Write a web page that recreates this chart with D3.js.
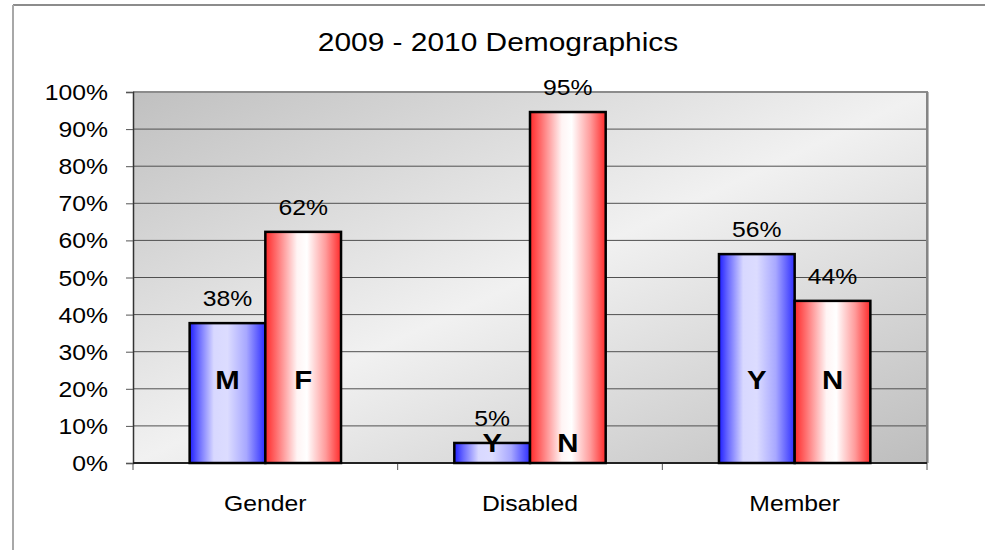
<!DOCTYPE html>
<html>
<head>
<meta charset="utf-8">
<script src="https://cdn.jsdelivr.net/npm/d3@7"></script>
<style>
  html, body { margin: 0; padding: 0; background: #fff; }
  svg { display: block; }
  text { font-family: "Liberation Sans", Arial, sans-serif; fill: #000; }
</style>
</head>
<body>
<svg id="chart" width="985" height="550"></svg>
<script>
// ---- data ----
const title = "2009 - 2010 Demographics";
const categories = ["Gender", "Disabled", "Member"];
const firstLetters = ["M", "Y", "Y"];
const secondLetters = ["F", "N", "N"];
const firstValues = [37.7, 5.4, 56.3];
const secondValues = [62.3, 94.6, 43.7];
const letterLevels = [20, 3, 20];
const yTicks = [0, 10, 20, 30, 40, 50, 60, 70, 80, 90, 100];

// ---- layout ----
const W = 985, H = 550;
const plot = { left: 133, right: 927, top: 92, bottom: 463 };
const SX = 1.15; // horizontal text stretch seen in the reference

const svg = d3.select("#chart");
const defs = svg.append("defs");

const bg = defs.append("linearGradient").attr("id", "bgGrad")
  .attr("x1", 0).attr("y1", 0).attr("x2", 1).attr("y2", 1);
bg.append("stop").attr("offset", 0).attr("stop-color", "#c0c0c0");
bg.append("stop").attr("offset", 0.5).attr("stop-color", "#f1f1f1");
bg.append("stop").attr("offset", 1).attr("stop-color", "#bdbdbd");

const blue = defs.append("linearGradient").attr("id", "blueGrad")
  .attr("x1", 0).attr("y1", 0).attr("x2", 1).attr("y2", 0);
[[0, "#1e1eff"], [0.12, "#6a6aff"], [0.32, "#d8d8ff"], [0.5, "#dcdcff"], [0.75, "#a8a8ff"], [1, "#2e2eff"]]
  .forEach(([o, c]) => blue.append("stop").attr("offset", o).attr("stop-color", c));

const red = defs.append("linearGradient").attr("id", "redGrad")
  .attr("x1", 0).attr("y1", 0).attr("x2", 1).attr("y2", 0);
[[0, "#ff2a2a"], [0.15, "#ff7070"], [0.42, "#fff4f4"], [0.55, "#ffffff"], [0.8, "#ff9a9a"], [1, "#ff2a2a"]]
  .forEach(([o, c]) => red.append("stop").attr("offset", o).attr("stop-color", c));

// outer chart border (top & left visible)
svg.append("line").attr("x1", 13).attr("x2", W).attr("y1", 5).attr("y2", 5)
  .attr("stroke", "#666").attr("stroke-width", 1.5);
svg.append("line").attr("x1", 13).attr("x2", 13).attr("y1", 5).attr("y2", H)
  .attr("stroke", "#a8a8a8").attr("stroke-width", 2);

// scales
const x = d3.scaleBand().domain(categories).range([plot.left, plot.right]).padding(0);
const bw = x.bandwidth();
const xSub = d3.scaleBand().domain([0, 1]).range([bw * 0.214, bw * 0.786]).padding(0);
const y = d3.scaleLinear().domain([0, 100]).range([plot.bottom, plot.top]);

// plot background
svg.append("rect")
  .attr("x", plot.left).attr("y", plot.top)
  .attr("width", plot.right - plot.left).attr("height", plot.bottom - plot.top)
  .attr("fill", "url(#bgGrad)");

// gridlines
svg.append("g").selectAll("line").data(yTicks.filter(t => t > 0 && t < 100)).join("line")
  .attr("x1", plot.left).attr("x2", plot.right)
  .attr("y1", d => y(d)).attr("y2", d => y(d))
  .attr("stroke", "#505050").attr("stroke-width", 1);

// plot border top & right
svg.append("line").attr("x1", plot.left).attr("x2", plot.right + 1)
  .attr("y1", plot.top).attr("y2", plot.top).attr("stroke", "#8c8c8c").attr("stroke-width", 2);
svg.append("line").attr("x1", plot.right).attr("x2", plot.right)
  .attr("y1", plot.top).attr("y2", plot.bottom).attr("stroke", "#858585").attr("stroke-width", 2);
svg.append("line").attr("x1", plot.right + 1.5).attr("x2", plot.right + 1.5)
  .attr("y1", plot.top).attr("y2", plot.bottom).attr("stroke", "#bbbbbb").attr("stroke-width", 1);

// helper for stretched text
function stretchedText(g, tx, ty, str, anchor, size, weight) {
  return g.append("text")
    .attr("transform", `translate(${tx},${ty}) scale(${SX},1)`)
    .attr("text-anchor", anchor)
    .attr("font-size", size)
    .attr("font-weight", weight || "normal")
    .text(str);
}

// y axis
const yAxis = d3.axisLeft(y).tickValues(yTicks).tickSize(7).tickFormat(d => d + "%");
const gy = svg.append("g").attr("transform", `translate(${plot.left},0)`).call(yAxis);
gy.select(".domain").attr("stroke", "#333").attr("stroke-width", 1.5);
gy.selectAll(".tick line").attr("stroke", "#555");
gy.selectAll(".tick text").remove();
yTicks.forEach(t => stretchedText(svg, plot.left - 25, y(t) + 8, t + "%", "end", 21.5));

// x axis line and ticks at category boundaries
const boundaries = categories.map(c => x(c)).concat([plot.right]);
svg.append("g").selectAll("line").data(boundaries).join("line")
  .attr("x1", d => d).attr("x2", d => d)
  .attr("y1", plot.bottom).attr("y2", plot.bottom + 7)
  .attr("stroke", "#555").attr("stroke-width", 1);
svg.append("line").attr("x1", plot.left).attr("x2", plot.right)
  .attr("y1", plot.bottom).attr("y2", plot.bottom).attr("stroke", "#222").attr("stroke-width", 2);

// category labels
categories.forEach(c => stretchedText(svg, x(c) + bw / 2, 511, c, "middle", 21.5));

// bars
const bars = [];
categories.forEach((c, i) => {
  bars.push({ cat: c, k: 0, v: firstValues[i], letter: firstLetters[i], lvl: letterLevels[i] });
  bars.push({ cat: c, k: 1, v: secondValues[i], letter: secondLetters[i], lvl: letterLevels[i] });
});

svg.append("g").selectAll("rect").data(bars).join("rect")
  .attr("x", d => x(d.cat) + xSub(d.k))
  .attr("width", xSub.bandwidth())
  .attr("y", d => y(d.v))
  .attr("height", d => y(0) - y(d.v))
  .attr("fill", d => d.k === 0 ? "url(#blueGrad)" : "url(#redGrad)")
  .attr("stroke", "#000").attr("stroke-width", 2.5);

// value labels
bars.forEach(d => {
  stretchedText(svg, x(d.cat) + xSub(d.k) + xSub.bandwidth() / 2, y(d.v) - 17,
    Math.round(d.v) + "%", "middle", 21.5);
});

// inner letters
bars.forEach(d => {
  stretchedText(svg, x(d.cat) + xSub(d.k) + xSub.bandwidth() / 2, y(d.lvl),
    d.letter, "middle", 25.5, "bold");
});

// title
stretchedText(svg, 498, 51, title, "middle", 26);
</script>
</body>
</html>
